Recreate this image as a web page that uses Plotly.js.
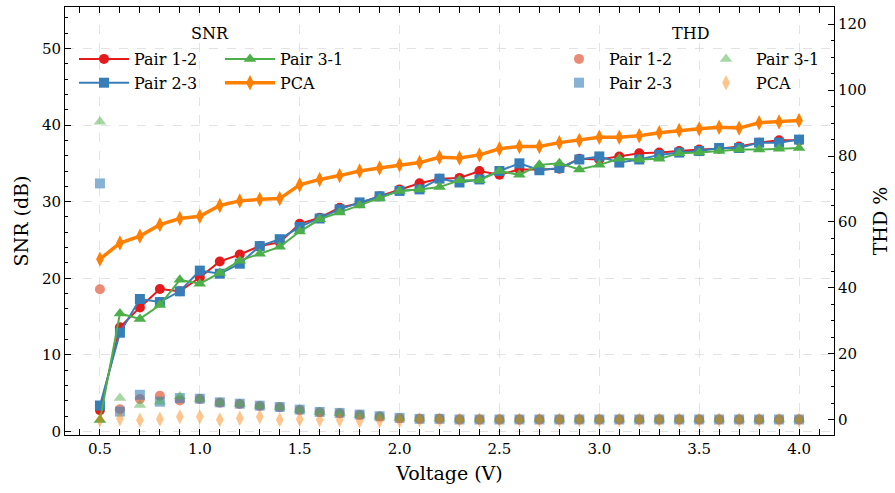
<!DOCTYPE html>
<html>
<head>
<meta charset="utf-8">
<script src="https://cdn.plot.ly/plotly-3.0.1.min.js"></script>
<style>html,body{margin:0;padding:0;background:#fff;}#chart{width:895px;height:493px;}</style>
</head>
<body>
<div id="chart"></div>
<script>
const voltage = [0.5,0.6,0.7,0.8,0.9,1.0,1.1,1.2,1.3,1.4,1.5,1.6,1.7,1.8,1.9,2.0,2.1,2.2,2.3,2.4,2.5,2.6,2.7,2.8,2.9,3.0,3.1,3.2,3.3,3.4,3.5,3.6,3.7,3.8,3.9,4.0];

const snrPair12 = [2.8,13.6,16.2,18.6,18.3,20.1,22.2,23.1,24.2,24.7,27.1,27.9,29.2,29.8,30.7,31.6,32.4,33.0,33.1,34.0,33.5,34.2,34.2,34.3,35.6,35.5,35.9,36.3,36.4,36.6,36.8,36.9,37.2,37.7,38.0,38.0];
const snrPair23 = [3.4,12.9,17.3,16.9,18.3,21.0,20.6,21.9,24.2,25.1,26.7,27.8,29.0,29.9,30.7,31.4,31.6,33.0,32.5,32.9,34.0,35.0,34.1,34.4,35.5,35.9,35.1,35.5,36.1,36.4,36.6,37.0,37.0,37.7,37.7,38.1];
const snrPair31 = [1.5,15.4,14.7,16.5,19.8,19.3,20.7,22.3,23.2,24.1,26.1,27.7,28.6,29.5,30.4,31.4,31.6,31.9,32.8,32.8,34.0,33.5,34.8,35.0,34.2,34.8,35.6,35.5,35.6,36.3,36.4,36.6,36.8,36.8,36.9,37.0];
const snrPCA    = [22.5,24.6,25.5,27.0,27.8,28.1,29.5,30.1,30.3,30.4,32.2,32.9,33.4,34.0,34.4,34.8,35.1,35.8,35.7,36.1,36.9,37.2,37.2,37.7,38.0,38.4,38.4,38.6,39.0,39.3,39.5,39.7,39.6,40.3,40.4,40.6];

const thdPair12 = [39.6,3.2,6.3,7.3,5.9,6.3,5.2,4.8,4.2,3.8,3.0,2.3,2.0,1.5,1.0,0.5,0.3,0.3,0.1,0.1,0.1,0.1,0.1,0.1,0.1,0.1,0.1,0.1,0.1,0.1,0.1,0.1,0.1,0.1,0.1,0.1];
const thdPair23 = [71.7,2.5,7.6,5.5,6.6,6.4,5.3,4.9,4.3,3.9,3.1,2.4,2.1,1.6,1.1,0.6,0.3,0.3,0.1,0.1,0.1,0.1,0.1,0.1,0.1,0.1,0.1,0.1,0.1,0.1,0.1,0.1,0.1,0.1,0.1,0.1];
const thdPair31 = [90.4,6.6,4.5,5.5,7.1,6.3,5.2,4.8,4.2,3.8,3.0,2.3,2.0,1.5,1.0,0.5,0.3,0.3,0.1,0.1,0.1,0.1,0.1,0.1,0.1,0.1,0.1,0.1,0.1,0.1,0.1,0.1,0.1,0.1,0.1,0.1];
const thdPCA    = [0.0,0.3,-0.1,0.2,0.9,0.9,0.0,0.5,0.9,0.0,0.2,0.0,0.0,-0.3,-0.3,-0.2,0.0,0.0,0.0,0.0,0.0,0.0,0.0,0.0,0.0,0.0,0.0,0.0,0.0,0.0,0.0,0.0,0.0,0.0,0.0,0.0];

const seriesNames = ['Pair 1-2','Pair 2-3','Pair 3-1','PCA'];
const colors = ['#e41a1c','#377eb8','#4daf4a','#ff7f00'];
const thdColors = ['rgba(225,75,45,0.65)','rgba(55,126,184,0.6)','rgba(77,175,74,0.5)','rgba(255,127,0,0.45)'];

const FONT = 'DejaVu Serif, serif';
const snrData = [snrPair12, snrPair23, snrPair31, snrPCA];
const thdData = [thdPair12, thdPair23, thdPair31, thdPCA];
const symbols = ['circle','square','triangle-up','diamond-tall'];
const markerSizes = [10, 10, 11, 11];
const snrLegends = ['legend','legend','legend2','legend2'];
const thdLegends = ['legend3','legend3','legend4','legend4'];

const traces = [];
for (let i = 0; i < 4; i++) {
  const isPCA = i === 3;
  traces.push({
    x: voltage, y: snrData[i], name: seriesNames[i], type: 'scatter', mode: 'lines+markers',
    line: {color: colors[i], width: isPCA ? 3.5 : 2},
    marker: {color: colors[i], symbol: symbols[i], size: markerSizes[i]},
    legend: snrLegends[i], yaxis: 'y'
  });
}
for (let i = 0; i < 4; i++) {
  traces.push({
    x: voltage, y: thdData[i], name: seriesNames[i], type: 'scatter', mode: 'markers',
    marker: {color: thdColors[i], symbol: symbols[i], size: markerSizes[i]},
    legend: thdLegends[i], yaxis: 'y2'
  });
}

const legendBase = {
  bgcolor: 'rgba(0,0,0,0)', borderwidth: 0, font: {family: FONT, size: 16, color: '#000'},
  orientation: 'v', yanchor: 'top', xanchor: 'left', itemwidth: 50, tracegroupgap: 0
};
const lx = px => (px - 65) / 769;
const ly = py => (435 - py) / 428;

const layout = {
  width: 895, height: 493,
  margin: {l: 65, r: 61, t: 7, b: 58},
  paper_bgcolor: '#fff', plot_bgcolor: '#fff',
  font: {family: FONT, size: 15, color: '#000'},
  showlegend: true,
  legend:  Object.assign({}, legendBase, {x: lx(74), y: ly(42)}),
  legend2: Object.assign({}, legendBase, {x: lx(220), y: ly(42)}),
  legend3: Object.assign({}, legendBase, {x: lx(549), y: ly(42)}),
  legend4: Object.assign({}, legendBase, {x: lx(696), y: ly(42)}),
  annotations: [
    {text: 'SNR', x: lx(210), y: ly(34), xref: 'paper', yref: 'paper', xanchor: 'center', yanchor: 'middle', showarrow: false, font: {family: FONT, size: 16, color: '#000'}},
    {text: 'THD', x: lx(690), y: ly(34), xref: 'paper', yref: 'paper', xanchor: 'center', yanchor: 'middle', showarrow: false, font: {family: FONT, size: 16, color: '#000'}}
  ],
  xaxis: {
    range: [0.325, 4.175], tick0: 0.5, dtick: 0.5, tickformat: '.1f',
    ticks: 'inside', ticklen: 6, tickcolor: '#000', tickwidth: 1,
    minor: {dtick: 0.1, ticks: 'inside', ticklen: 3, tickcolor: '#000', showgrid: false},
    showline: true, linecolor: '#000', linewidth: 1, mirror: 'allticks',
    showgrid: true, gridcolor: '#dcdcdc', griddash: 'dash', gridwidth: 0.8,
    zeroline: false, tickfont: {family: FONT, size: 15},
    title: {text: 'Voltage (V)', font: {family: FONT, size: 19}, standoff: 9}
  },
  yaxis: {
    range: [-0.45, 55.4], tick0: 0, dtick: 10,
    ticks: 'inside', ticklen: 6, tickcolor: '#000', tickwidth: 1,
    minor: {dtick: 2, ticks: 'inside', ticklen: 3, tickcolor: '#000', showgrid: false},
    showline: true, linecolor: '#000', linewidth: 1,
    showgrid: true, gridcolor: '#dcdcdc', griddash: 'dash', gridwidth: 0.8,
    zeroline: false, tickfont: {family: FONT, size: 15},
    title: {text: 'SNR (dB)', font: {family: FONT, size: 19}, standoff: 8}
  },
  yaxis2: {
    overlaying: 'y', side: 'right',
    range: [-4.6, 125.2], tick0: 0, dtick: 20,
    ticks: 'inside', ticklen: 6, tickcolor: '#000', tickwidth: 1,
    minor: {dtick: 5, ticks: 'inside', ticklen: 3, tickcolor: '#000', showgrid: false},
    showline: true, linecolor: '#000', linewidth: 1,
    showgrid: false, zeroline: false, tickfont: {family: FONT, size: 15},
    title: {text: 'THD %', font: {family: FONT, size: 19}, standoff: 8}
  }
};

Plotly.newPlot('chart', traces, layout, {displayModeBar: false, staticPlot: true});
</script>
</body>
</html>
